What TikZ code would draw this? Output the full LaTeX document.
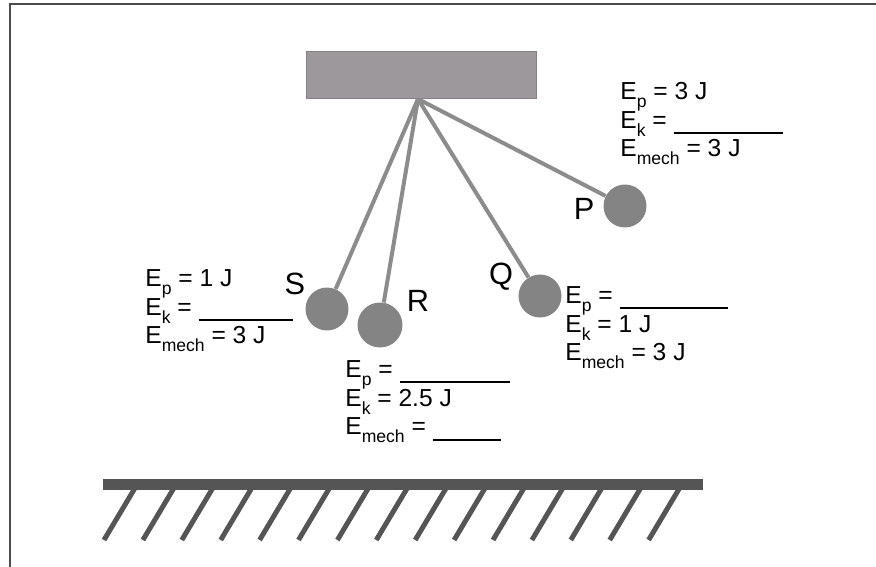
\documentclass[tikz,border=0pt]{standalone}
\usepackage{fontspec}
\setmainfont{Liberation Sans}
\definecolor{ceilGray}{HTML}{9C989C}
\definecolor{ballGray}{HTML}{848484}
\definecolor{ropeGray}{HTML}{8C8C8C}
\definecolor{groundGray}{HTML}{555555}
\newcommand{\Esub}[1]{E\raisebox{-4.5pt}[0pt][0pt]{\fontsize{10}{10}\selectfont #1}}
\newcommand{\blank}[1]{\rule[-3.3pt]{#1}{1pt}}

\begin{document}
\begin{tikzpicture}[
    x=0.02cm, y=-0.02cm,
    ball/.style={circle, fill=ballGray, minimum size=0.86cm, inner sep=0pt},
    rope/.style={draw=ropeGray, line width=0.08cm},
    tag/.style={font=\fontsize{17.5}{18}\selectfont, anchor=base, inner sep=0pt},
    % anchored on the baseline of the last line
    info/.style={font=\fontsize{14}{16.4}\selectfont, align=left,
                 anchor=base west, inner sep=0pt},
    hatch/.style={draw=groundGray, line width=0.1cm}
  ]
    \useasboundingbox (0,0) rectangle (876,567);
    \draw[black!70, line width=0.035cm] (10,567) -- (10,4) -- (876,4);

    % Support and the four pendulum positions
    \node[fill=ceilGray, draw=ceilGray!85!black, line width=0.4pt,
          minimum width=4.6cm, minimum height=0.94cm, inner sep=0pt]
          (ceiling) at (421,74.5) {};
    \coordinate (pivot) at (418,99);

    \node[ball] (ballP) at (625,206) {};
    \node[ball] (ballQ) at (540,296) {};
    \node[ball, minimum size=0.9cm] (ballR) at (380,325) {};
    \node[ball] (ballS) at (327,309) {};

    \draw[rope] (pivot) -- (ballS);
    \draw[rope] (pivot) -- (ballR);
    \draw[rope] (pivot) -- (ballQ);
    \draw[rope] (pivot) -- (ballP);

    \node[tag] (tagP) at (584,220) {P};
    \node[tag] (tagQ) at (501,285) {Q};
    \node[tag] (tagR) at (418,312) {R};
    \node[tag] (tagS) at (295,295) {S};

    % Energy values at each position
    \node[info] (infoP) at (620,157) {
      \Esub{p} = 3 J\\
      \Esub{k} = \blank{62pt}\\
      \Esub{mech} = 3 J};
    \node[info] (infoQ) at (565,361) {
      \Esub{p} = \blank{62pt}\\
      \Esub{k} = 1 J\\
      \Esub{mech} = 3 J};
    \node[info] (infoR) at (345,435) {
      \Esub{p} = \blank{63pt}\\
      \Esub{k} = 2.5 J\\
      \Esub{mech} = \blank{39pt}};
    \node[info] (infoS) at (145,344) {
      \Esub{p} = 1 J\\
      \Esub{k} = \blank{54pt}\\
      \Esub{mech} = 3 J};

    % Floor
    \node[fill=groundGray, minimum width=12cm, minimum height=0.22cm,
          inner sep=0pt] (floor) at (403,484.5) {};
    \foreach \i in {0,...,14}
      \draw[hatch] ({135+38.9*\i},488) -- ++(-31,52);
\end{tikzpicture}
\end{document}
